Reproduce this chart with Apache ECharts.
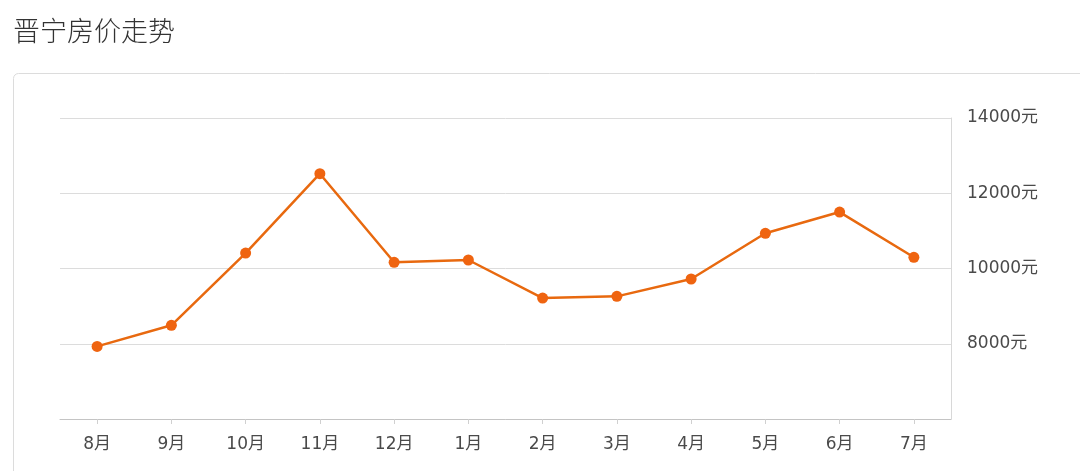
<!DOCTYPE html>
<html>
<head>
<meta charset="utf-8">
<script src="https://cdn.jsdelivr.net/npm/echarts@6/dist/echarts.min.js"></script>
<style>html,body{margin:0;padding:0;background:#fff;}#c{width:1080px;height:471px;}</style>
</head>
<body>
<div id="c"></div>
<script>
var titleText = '晋宁房价走势';
var categories = ['8月','9月','10月','11月','12月','1月','2月','3月','4月','5月','6月','7月'];
var prices = [7930, 8490, 10410, 12520, 10165, 10226, 9215, 9260, 9721, 10936, 11500, 10298];
var yMin = 6000, yMax = 14000, yStep = 2000;
var unit = '元';

var labelFont = '"DejaVu Sans", "Noto Sans CJK SC", sans-serif';
var chart = echarts.init(document.getElementById('c'), null, {renderer: 'canvas'});
chart.setOption({
  backgroundColor: '#ffffff',
  animation: false,
  title: {
    text: titleText, left: 8, top: 12,
    textStyle: {fontFamily: 'Noto Sans CJK SC', fontSize: 27, fontWeight: 300, color: '#333'}
  },
  graphic: [{
    type: 'rect', silent: true, z: -10,
    shape: {x: 13.5, y: 73.5, width: 1080, height: 420, r: 5},
    style: {fill: '#ffffff', stroke: '#dcdcdc', lineWidth: 1}
  }],
  grid: {left: 60, right: 129, top: 118, bottom: 52},
  xAxis: {
    type: 'category', data: categories, boundaryGap: true,
    axisLine: {show: true, lineStyle: {color: '#c4c4c4', width: 1}},
    axisTick: {show: true, alignWithLabel: true, length: 5, lineStyle: {color: '#d0d0d0'}},
    axisLabel: {color: '#4a4a4a', fontSize: 17, margin: 17, fontFamily: labelFont}
  },
  yAxis: {
    type: 'value', position: 'right', min: yMin, max: yMax, interval: yStep,
    axisLine: {show: true, lineStyle: {color: '#d8d8d8'}},
    axisTick: {show: false},
    splitLine: {show: true, lineStyle: {color: '#dcdcdc'}},
    axisLabel: {
      color: '#4a4a4a', fontSize: 17, margin: 16, fontFamily: labelFont,
      formatter: function (v) { return v === yMin ? '' : v + unit; }
    }
  },
  series: [{
    type: 'line', data: prices,
    symbol: 'circle', symbolSize: 11,
    lineStyle: {color: '#e8690f', width: 2.5},
    itemStyle: {color: '#ef6410'}
  }]
});
</script>
</body>
</html>
